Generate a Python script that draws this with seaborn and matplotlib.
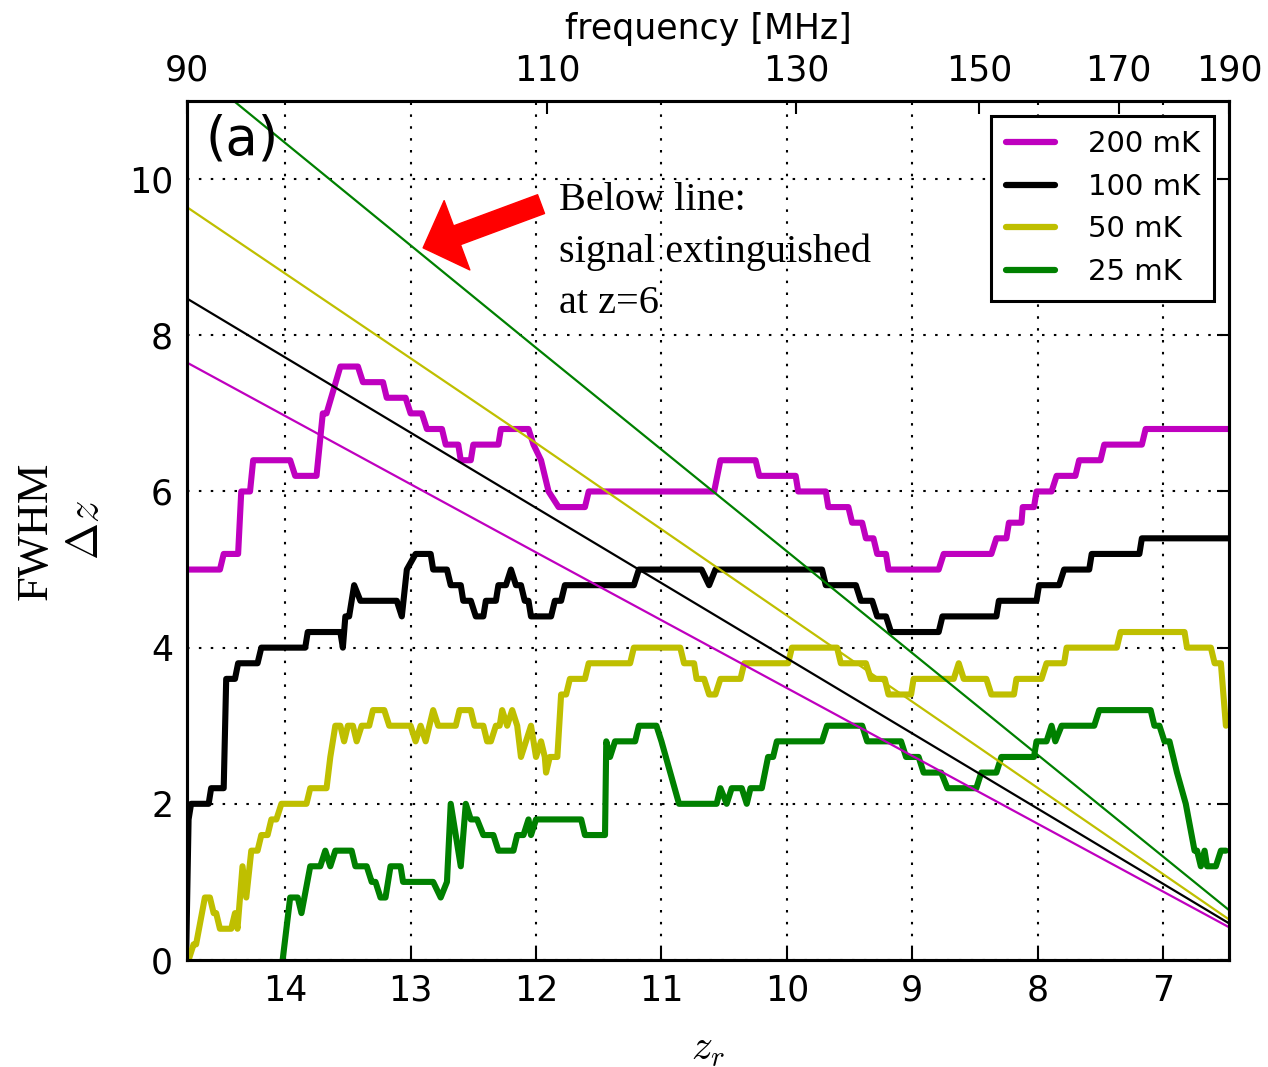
import numpy as np
import pandas as pd
import matplotlib
matplotlib.use("Agg")
import matplotlib.pyplot as plt
from matplotlib.lines import Line2D
import seaborn as sns

# ---------------- data ----------------
labels_T = ["200 mK", "100 mK", "50 mK", "25 mK"]
colors_T = [(0.75, 0.0, 0.75), "black", (0.75, 0.75, 0.0), (0.0, 0.5, 0.0)]

z_200 = [14.79, 14.52, 14.49, 14.375, 14.35, 14.28, 14.255, 13.96, 13.92, 13.75, 13.70, 13.67,
         13.56, 13.42, 13.38, 13.22, 13.19, 13.04, 13.00, 12.91, 12.87, 12.75, 12.72, 12.62,
         12.60, 12.52, 12.50, 12.30, 12.28, 12.06, 12.02, 11.96, 11.90, 11.82, 11.61, 11.58,
         10.58, 10.53, 10.25, 10.22, 9.93, 9.91, 9.69, 9.67, 9.51, 9.48, 9.40, 9.37, 9.31,
         9.28, 9.21, 9.19, 8.79, 8.75, 8.37, 8.33, 8.25, 8.23, 8.13, 8.12, 8.03, 8.01, 7.89,
         7.85, 7.70, 7.67, 7.50, 7.47, 7.17, 7.14, 6.47]
fwhm_200 = [5.0, 5.0, 5.2, 5.2, 6.0, 6.0, 6.4, 6.4, 6.2, 6.2, 7.0, 7.0,
            7.6, 7.6, 7.4, 7.4, 7.2, 7.2, 7.0, 7.0, 6.8, 6.8, 6.6, 6.6,
            6.4, 6.4, 6.6, 6.6, 6.8, 6.8, 6.6, 6.4, 6.0, 5.8, 5.8, 6.0,
            6.0, 6.4, 6.4, 6.2, 6.2, 6.0, 6.0, 5.8, 5.8, 5.6, 5.6, 5.4, 5.4,
            5.2, 5.2, 5.0, 5.0, 5.2, 5.2, 5.4, 5.4, 5.6, 5.6, 5.8, 5.8, 6.0, 6.0,
            6.2, 6.2, 6.4, 6.4, 6.6, 6.6, 6.8, 6.8]

z_100 = [14.79, 14.77, 14.75, 14.61, 14.59, 14.49, 14.47, 14.40, 14.375, 14.22, 14.19, 13.84,
         13.82, 13.56, 13.54, 13.52, 13.49, 13.45, 13.40, 13.11, 13.07, 13.03, 12.96, 12.84,
         12.82, 12.71, 12.68, 12.60, 12.58, 12.52, 12.48, 12.42, 12.40, 12.32, 12.30, 12.24,
         12.20, 12.16, 12.12, 12.09, 12.06, 12.04, 11.88, 11.85, 11.80, 11.77, 11.22, 11.18,
         10.68, 10.62, 10.57, 9.72, 9.69, 9.45, 9.41, 9.32, 9.28, 9.21, 9.17, 8.79, 8.76,
         8.33, 8.31, 8.01, 7.99, 7.83, 7.79, 7.59, 7.57, 7.19, 7.17, 6.47]
fwhm_100 = [0.0, 1.8, 2.0, 2.0, 2.2, 2.2, 3.6, 3.6, 3.8, 3.8, 4.0, 4.0,
            4.2, 4.2, 4.0, 4.4, 4.4, 4.8, 4.6, 4.6, 4.4, 5.0, 5.2, 5.2,
            5.0, 5.0, 4.8, 4.8, 4.6, 4.6, 4.4, 4.4, 4.6, 4.6, 4.8, 4.8,
            5.0, 4.8, 4.8, 4.6, 4.6, 4.4, 4.4, 4.6, 4.6, 4.8, 4.8, 5.0,
            5.0, 4.8, 5.0, 5.0, 4.8, 4.8, 4.6, 4.6, 4.4, 4.4, 4.2, 4.2, 4.4,
            4.4, 4.6, 4.6, 4.8, 4.8, 5.0, 5.0, 5.2, 5.2, 5.4, 5.4]

z_50 = [14.77, 14.73, 14.71, 14.64, 14.60, 14.57, 14.55, 14.52, 14.43, 14.40, 14.38, 14.34,
        14.31, 14.27, 14.22, 14.19, 14.14, 14.11, 14.07, 14.03, 13.83, 13.80, 13.67, 13.64,
        13.60, 13.56, 13.53, 13.50, 13.46, 13.43, 13.39, 13.33, 13.30, 13.21, 13.17, 13.00,
        12.96, 12.92, 12.88, 12.82, 12.78, 12.64, 12.61, 12.52, 12.49, 12.42, 12.39, 12.36,
        12.32, 12.29, 12.27, 12.23, 12.19, 12.15, 12.12, 12.08, 12.04, 12.00, 11.96, 11.93,
        11.92, 11.89, 11.83, 11.80, 11.76, 11.73, 11.61, 11.58, 11.25, 11.22, 10.85, 10.82,
        10.74, 10.72, 10.66, 10.62, 10.57, 10.53, 10.37, 10.34, 9.99, 9.96, 9.60, 9.57, 9.37,
        9.33, 9.22, 9.19, 9.01, 8.99, 8.67, 8.63, 8.59, 8.41, 8.37, 8.19, 8.17, 7.97, 7.93,
        7.79, 7.77, 7.37, 7.34, 6.83, 6.81, 6.62, 6.59, 6.54, 6.50]
fwhm_50 = [0.0, 0.2, 0.2, 0.8, 0.8, 0.6, 0.6, 0.4, 0.4, 0.6, 0.4, 1.2,
           0.8, 1.4, 1.4, 1.6, 1.6, 1.8, 1.8, 2.0, 2.0, 2.2, 2.2, 2.6,
           3.0, 3.0, 2.8, 3.0, 3.0, 2.8, 3.0, 3.0, 3.2, 3.2, 3.0, 3.0,
           2.8, 3.0, 2.8, 3.2, 3.0, 3.0, 3.2, 3.2, 3.0, 3.0, 2.8, 2.8,
           3.0, 3.0, 3.2, 3.0, 3.2, 3.0, 2.6, 2.8, 3.0, 2.6, 2.8, 2.6,
           2.4, 2.6, 2.6, 3.4, 3.4, 3.6, 3.6, 3.8, 3.8, 4.0, 4.0, 3.8,
           3.8, 3.6, 3.6, 3.4, 3.4, 3.6, 3.6, 3.8, 3.8, 4.0, 4.0, 3.8, 3.8,
           3.6, 3.6, 3.4, 3.4, 3.6, 3.6, 3.8, 3.6, 3.6, 3.4, 3.4, 3.6, 3.6, 3.8,
           3.8, 4.0, 4.0, 4.2, 4.2, 4.0, 4.0, 3.8, 3.8, 3.0]

z_25 = [14.02, 13.96, 13.90, 13.87, 13.80, 13.72, 13.68, 13.64, 13.60, 13.47, 13.44, 13.35,
        13.31, 13.28, 13.24, 13.20, 13.16, 13.08, 13.06, 12.82, 12.76, 12.71, 12.68, 12.64,
        12.60, 12.56, 12.52, 12.47, 12.42, 12.34, 12.30, 12.18, 12.15, 12.10, 12.06, 12.04,
        12.00, 11.64, 11.61, 11.45, 11.44, 11.41, 11.37, 11.21, 11.18, 11.04, 11.00, 10.86,
        10.56, 10.53, 10.48, 10.44, 10.36, 10.32, 10.29, 10.20, 10.15, 10.11, 10.08, 9.72,
        9.68, 9.40, 9.36, 9.09, 9.05, 8.95, 8.91, 8.77, 8.72, 8.49, 8.45, 8.33, 8.29, 8.03,
        8.01, 7.93, 7.89, 7.86, 7.81, 7.55, 7.51, 7.10, 7.07, 7.03, 6.99, 6.95, 6.89, 6.82,
        6.75, 6.73, 6.70, 6.67, 6.65, 6.58, 6.54, 6.50]
fwhm_25 = [0.0, 0.8, 0.8, 0.6, 1.2, 1.2, 1.4, 1.2, 1.4, 1.4, 1.2, 1.2,
           1.0, 1.0, 0.8, 0.8, 1.2, 1.2, 1.0, 1.0, 0.8, 1.0, 2.0, 1.6,
           1.2, 2.0, 1.8, 1.8, 1.6, 1.6, 1.4, 1.4, 1.6, 1.6, 1.8, 1.6,
           1.8, 1.8, 1.6, 1.6, 2.8, 2.6, 2.8, 2.8, 3.0, 3.0, 2.8, 2.0,
           2.0, 2.2, 2.0, 2.2, 2.2, 2.0, 2.2, 2.2, 2.6, 2.6, 2.8, 2.8,
           3.0, 3.0, 2.8, 2.8, 2.6, 2.6, 2.4, 2.4, 2.2, 2.2, 2.4, 2.4, 2.6, 2.6,
           2.8, 2.8, 3.0, 2.8, 3.0, 3.0, 3.2, 3.2, 3.0, 3.0, 2.8, 2.8, 2.4, 2.0,
           1.4, 1.4, 1.2, 1.4, 1.2, 1.2, 1.4, 1.4]

# "signal extinguished at z=6" limit lines (read at three z positions)
line_z = [14.782, 12.0, 6.476]
line_200 = [7.65, 5.22, 0.42]
line_100 = [8.47, 5.79, 0.47]
line_50 = [9.64, 6.62, 0.52]
line_25 = [11.49, 7.84, 0.64]

z_ticks = [14, 13, 12, 11, 10, 9, 8, 7]
y_ticks = [0, 2, 4, 6, 8, 10]
freq_ticks = [90, 110, 130, 150, 170, 190]
NU21 = 1420.406  # MHz

# ---------------- style ----------------
sns.set_theme(style="white")
plt.rcParams.update({
    "font.family": ["DejaVu Sans"],
    "mathtext.fontset": "cm",
    "xtick.direction": "in",
    "ytick.direction": "in",
    "axes.edgecolor": "black",
    "axes.linewidth": 2.2,
    "text.color": "black",
    "axes.labelcolor": "black",
    "xtick.color": "black",
    "ytick.color": "black",
})

steps = pd.concat([
    pd.DataFrame({"z": z_200, "fwhm": fwhm_200, "T": labels_T[0]}),
    pd.DataFrame({"z": z_100, "fwhm": fwhm_100, "T": labels_T[1]}),
    pd.DataFrame({"z": z_50, "fwhm": fwhm_50, "T": labels_T[2]}),
    pd.DataFrame({"z": z_25, "fwhm": fwhm_25, "T": labels_T[3]}),
], ignore_index=True)
lines = pd.concat([
    pd.DataFrame({"z": line_z, "fwhm": line_200, "T": labels_T[0]}),
    pd.DataFrame({"z": line_z, "fwhm": line_100, "T": labels_T[1]}),
    pd.DataFrame({"z": line_z, "fwhm": line_50, "T": labels_T[2]}),
    pd.DataFrame({"z": line_z, "fwhm": line_25, "T": labels_T[3]}),
], ignore_index=True)
palette = dict(zip(labels_T, colors_T))

fig = plt.figure(figsize=(12.68, 10.67), dpi=100)
ax = fig.add_axes([0.1475, 0.1003, 0.8217, 0.805])

sns.lineplot(data=steps, x="z", y="fwhm", hue="T", palette=palette, sort=False,
             estimator=None, linewidth=4.4, ax=ax, legend=False, zorder=2)
sns.lineplot(data=lines, x="z", y="fwhm", hue="T", palette=palette, sort=False,
             estimator=None, linewidth=1.6, ax=ax, legend=False, zorder=3)

ax.set_xlim(NU21 / 90 - 1, NU21 / 190 - 1)
ax.set_ylim(0, 11)
ax.set_xticks(z_ticks)
ax.set_yticks(y_ticks)
ax.tick_params(axis="both", which="major", labelsize=25, length=9, width=1.5,
               top=True, right=True, pad=10, colors="black")
ax.grid(True, color="black", linestyle=(0, (1.2, 4.5)), linewidth=1.5)
ax.set_xlabel("$z_r$", fontsize=30, labelpad=14)
ax.set_ylabel("FWHM\n$\\Delta z$", fontsize=32, family="Liberation Serif",
              labelpad=16, linespacing=1.35)
for s in ax.spines.values():
    s.set_linewidth(2.2)
    s.set_color("black")

# top frequency axis
ax2 = ax.twiny()
ax2.set_xlim(ax.get_xlim())
ax2.set_xticks([NU21 / f - 1 for f in freq_ticks])
ax2.set_xticklabels([str(f) for f in freq_ticks])
ax2.tick_params(axis="x", labelsize=25, length=9, width=1.5, direction="in", pad=10,
                colors="black")
ax2.set_xlabel("frequency [MHz]", fontsize=25, labelpad=10, color="black")
ax2.grid(False)
for s in ax2.spines.values():
    s.set_linewidth(2.2)

# legend
handles = [Line2D([0], [0], color=c, lw=4.5) for c in colors_T]
leg = ax.legend(handles, labels_T, loc="upper right", fontsize=21, frameon=True,
                fancybox=False, framealpha=1, edgecolor="black", handlelength=1.7,
                handletextpad=1.1, labelspacing=0.5, borderpad=0.5, borderaxespad=0.5)
leg.get_frame().set_linewidth(2.2)
for t in leg.get_texts():
    t.set_color("black")

# panel label
ax.text(0.018, 0.985, "(a)", transform=ax.transAxes, fontsize=38, va="top", ha="left",
        color="black")

# annotation
ax.annotate("", xy=(12.90, 9.12), xytext=(11.96, 9.68),
            arrowprops=dict(arrowstyle="simple,head_length=0.65,head_width=1.33,tail_width=0.36",
                            fc="red", ec="red", mutation_scale=40, shrinkA=0, shrinkB=0),
            zorder=5)
ax.text(11.82, 9.96, "Below line:\nsignal extinguished\nat z=6", fontsize=29,
        family="Liberation Serif", va="top", ha="left", linespacing=1.5, zorder=5,
        color="black")

fig.savefig("out.png", dpi=100)
